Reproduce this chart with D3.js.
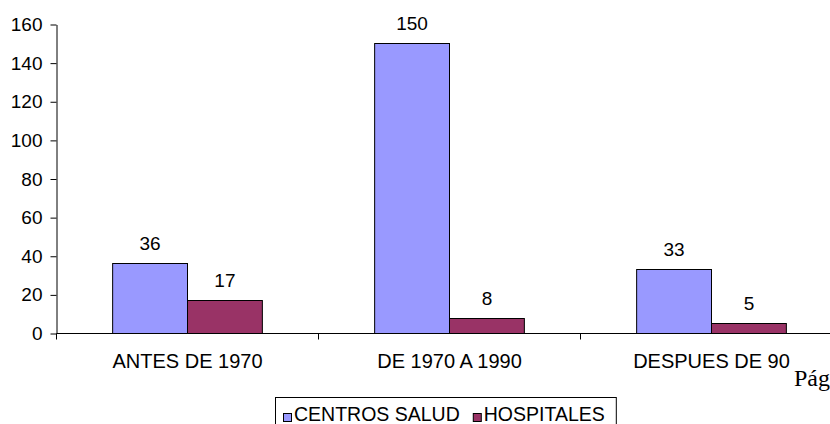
<!DOCTYPE html>
<html>
<head>
<meta charset="utf-8">
<script src="https://cdn.jsdelivr.net/npm/d3@7"></script>
<style>
  html, body { margin: 0; padding: 0; background: #fff; }
  svg { display: block; }
</style>
</head>
<body>
<svg id="chart" width="830" height="424"></svg>
<script>
const categories = ["ANTES DE 1970", "DE 1970 A 1990", "DESPUES DE 90"];
const seriesNames = ["CENTROS SALUD", "HOSPITALES"];
const centrosSalud = [36, 150, 33];
const hospitales = [17, 8, 5];
const yTicks = [0, 20, 40, 60, 80, 100, 120, 140, 160];
const seriesColors = ["#9999FF", "#993366"];

const seriesValues = [centrosSalud, hospitales];
const svg = d3.select("#chart");
const sans = "'Liberation Sans', Arial, sans-serif";
const fontSize = 19;

const x0 = d3.scaleBand().domain(categories).range([56, 842]).paddingInner(0).paddingOuter(0);
const x1 = d3.scaleBand().domain(seriesNames).range([0, x0.bandwidth()]).paddingInner(0).paddingOuter(0.75);
const y = d3.scaleLinear().domain([0, 160]).range([333, 24]);

// Bars
categories.forEach((c, ci) => {
  seriesNames.forEach((s, si) => {
    const v = seriesValues[si][ci];
    const bx = x0(c) + x1(s);
    svg.append("rect")
      .attr("x", bx + 0.5)
      .attr("y", Math.round(y(v)) + 0.5)
      .attr("width", x1.bandwidth())
      .attr("height", Math.round(y(0)) - Math.round(y(v)))
      .attr("fill", seriesColors[si])
      .attr("stroke", "#000")
      .attr("stroke-width", 1);
    svg.append("text")
      .attr("x", bx + x1.bandwidth() / 2 + 0.5)
      .attr("y", y(v) - 13)
      .attr("text-anchor", "middle")
      .style("font-family", sans)
      .style("font-size", fontSize + "px")
      .attr("fill", "#000")
      .text(v);
  });
});

// Y axis
const yAxis = d3.axisLeft(y).tickValues(yTicks).tickSize(6).tickPadding(8).tickSizeOuter(0);
const gy = svg.append("g").attr("transform", "translate(56.5,0.5)").call(yAxis);
gy.selectAll("text").style("font-size", fontSize + "px").style("font-family", sans).attr("fill", "#000");
gy.selectAll("line,path").attr("stroke", "#000");

// X axis
const xAxis = d3.axisBottom(x0).tickSize(0).tickPadding(20).tickSizeOuter(0);
const gx = svg.append("g").attr("transform", "translate(0.5,333.5)").call(xAxis);
gx.select("path").attr("stroke", "#000").attr("d", "M56,0H842");
gx.selectAll("text").style("font-size", "20px").style("font-family", sans).attr("fill", "#000").attr("dy", "0.71em");
// boundary tick marks between categories
const bounds = categories.map(c => x0(c)).concat([x0.range()[1]]);
gx.selectAll("line.bound").data(bounds).enter().append("line")
  .attr("class", "bound")
  .attr("x1", d => d).attr("x2", d => d)
  .attr("y1", 0).attr("y2", 6)
  .attr("stroke", "#000");

// Legend
const legend = svg.append("g");
const legendBox = legend.append("rect")
  .attr("x", 275.5).attr("y", 397.5)
  .attr("height", 40)
  .attr("fill", "#fff").attr("stroke", "#000");
let lx = 283;
const legendFont = 19.5;
seriesNames.forEach((s, i) => {
  legend.append("rect")
    .attr("x", lx + 0.5).attr("y", 413.5)
    .attr("width", 8).attr("height", 8)
    .attr("fill", seriesColors[i]).attr("stroke", "#000");
  const t = legend.append("text")
    .attr("x", lx + 11).attr("y", 421)
    .style("font-family", sans)
    .style("font-size", legendFont + "px")
    .attr("fill", "#000")
    .text(s);
  const w = t.node().getComputedTextLength();
  lx = lx + 11 + w + (i < seriesNames.length - 1 ? 13 : 0);
});
legendBox.attr("width", lx + 11 - 275);

// Page text fragment (cut at the right edge in the original)
svg.append("text")
  .attr("x", 794).attr("y", 386)
  .style("font-family", "'Liberation Serif', 'Times New Roman', serif")
  .style("font-size", "24px")
  .attr("fill", "#000")
  .text("Pág");
</script>
</body>
</html>
